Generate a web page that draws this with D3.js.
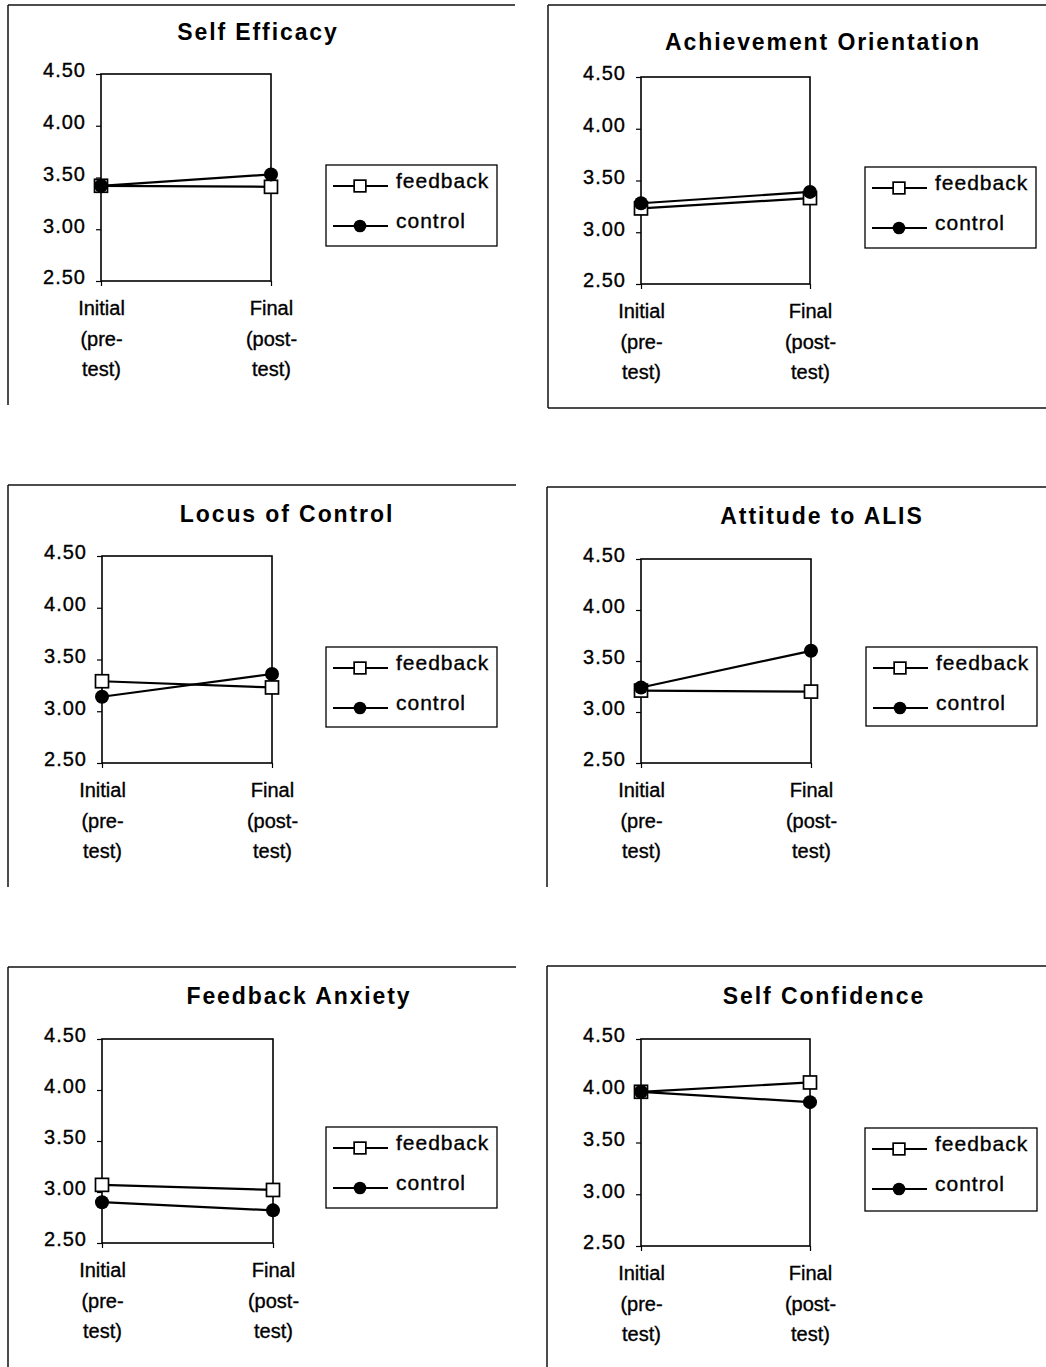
<!DOCTYPE html>
<html>
<head>
<meta charset="utf-8">
<script src="https://cdn.jsdelivr.net/npm/d3@7"></script>
<style>
  html, body { margin: 0; padding: 0; background: #fff; }
  svg { display: block; }
  text { font-family: "Liberation Sans", Arial, sans-serif; fill: #000; }
  .thick { stroke: #000; stroke-width: 0.35px; }
</style>
</head>
<body>
<script>
// ---------- DATA ----------
const panelTitles = ["Self Efficacy", "Achievement Orientation", "Locus of Control",
                     "Attitude to ALIS", "Feedback Anxiety", "Self Confidence"];
const categories = ["Initial", "Final"];
const categoryLabelLines = [["Initial", "(pre-", "test)"], ["Final", "(post-", "test)"]];
const seriesNames = ["feedback", "control"];
const feedbackValues = [
  [3.42, 3.41],
  [3.23, 3.33],
  [3.29, 3.23],
  [3.21, 3.20],
  [3.07, 3.02],
  [3.99, 4.08]
];
const controlValues = [
  [3.42, 3.53],
  [3.28, 3.39],
  [3.14, 3.36],
  [3.24, 3.60],
  [2.90, 2.82],
  [3.99, 3.89]
];
const yTicks = [2.50, 3.00, 3.50, 4.00, 4.50];
const yDomain = [2.5, 4.5];

// ---------- LAYOUT ----------
const layout = [
  { frame: {x: 8, y: 5, w: 507, h: 400, bottom: false}, title: {x: 258, y: 40},
    plot: {x0: 101, x1: 271, y0: 74, y1: 281}, legend: {x: 326, y: 165, w: 171, h: 81} },
  { frame: {x: 548, y: 5, w: 498, h: 403, bottom: true}, title: {x: 823, y: 50},
    plot: {x0: 641, x1: 810, y0: 77, y1: 284}, legend: {x: 865, y: 167, w: 171, h: 81} },
  { frame: {x: 8, y: 485, w: 508, h: 402, bottom: false}, title: {x: 287, y: 522},
    plot: {x0: 102, x1: 272, y0: 556, y1: 763}, legend: {x: 326, y: 647, w: 171, h: 80} },
  { frame: {x: 547, y: 487, w: 499, h: 400, bottom: false}, title: {x: 822, y: 524},
    plot: {x0: 641, x1: 811, y0: 559, y1: 763}, legend: {x: 866, y: 647, w: 171, h: 79} },
  { frame: {x: 8, y: 967, w: 508, h: 400, bottom: false}, title: {x: 299, y: 1004},
    plot: {x0: 102, x1: 273, y0: 1039, y1: 1243}, legend: {x: 326, y: 1127, w: 171, h: 81} },
  { frame: {x: 547, y: 966, w: 499, h: 401, bottom: false}, title: {x: 824, y: 1004},
    plot: {x0: 641, x1: 810, y0: 1039, y1: 1246}, legend: {x: 865, y: 1128, w: 172, h: 83} }
];

const W = 1046, H = 1367;
const svg = d3.select("body").append("svg").attr("width", W).attr("height", H);

function drawMarker(g, type, cx, cy, scale) {
  const k = scale || 1;
  if (type === "feedback") {
    const s = 13 * k;
    g.append("rect").attr("x", cx - s / 2).attr("y", cy - s / 2).attr("width", s).attr("height", s)
      .attr("fill", "#fff").attr("stroke", "#000").attr("stroke-width", 1.7);
  } else {
    g.append("circle").attr("cx", cx).attr("cy", cy).attr("r", 7 * k).attr("fill", "#000");
  }
}

panelTitles.forEach((title, i) => {
  const L = layout[i];
  const g = svg.append("g");

  // frame (top + left, optional bottom)
  const f = L.frame;
  g.append("line").attr("x1", f.x).attr("x2", f.x + f.w).attr("y1", f.y).attr("y2", f.y)
    .attr("stroke", "#111").attr("stroke-width", 1.5);
  g.append("line").attr("x1", f.x).attr("x2", f.x).attr("y1", f.y).attr("y2", f.y + f.h)
    .attr("stroke", "#111").attr("stroke-width", 1.5);
  if (f.bottom) {
    g.append("line").attr("x1", f.x).attr("x2", f.x + f.w).attr("y1", f.y + f.h).attr("y2", f.y + f.h)
      .attr("stroke", "#111").attr("stroke-width", 1.5);
  }

  // title
  g.append("text").attr("x", L.title.x).attr("y", L.title.y)
    .attr("text-anchor", "middle").attr("font-weight", "bold")
    .attr("font-size", 23).attr("letter-spacing", "1.9px")
    .text(title);

  const p = L.plot;
  const x = d3.scalePoint().domain(categories).range([p.x0, p.x1]).padding(0);
  const y = d3.scaleLinear().domain(yDomain).range([p.y1, p.y0]);

  // y axis
  const ya = g.append("g").attr("transform", `translate(${p.x0},0)`)
    .call(d3.axisLeft(y).tickValues(yTicks).tickSize(5).tickPadding(10).tickFormat(d3.format(".2f")));
  ya.select(".domain").remove();
  ya.selectAll(".tick line").attr("stroke", "#000").attr("stroke-width", 1.2);
  ya.selectAll(".tick text").attr("font-size", 20).attr("letter-spacing", "1px")
    .attr("font-family", "'Liberation Sans', Arial, sans-serif").attr("fill", "#000")
    .attr("class", "thick")
    .attr("dy", "0.32em").attr("y", -3.5);

  // x axis
  const xa = g.append("g").attr("transform", `translate(0,${p.y1})`)
    .call(d3.axisBottom(x).tickSize(5).tickFormat(""));
  xa.select(".domain").remove();
  xa.selectAll(".tick line").attr("stroke", "#000").attr("stroke-width", 1.2);
  xa.selectAll(".tick").each(function(d, j) {
    const t = d3.select(this).append("text")
      .attr("text-anchor", "middle").attr("font-size", 20).attr("class", "thick")
      .attr("font-family", "'Liberation Sans', Arial, sans-serif").attr("fill", "#000");
    categoryLabelLines[j].forEach((line, k) => {
      t.append("tspan").attr("x", 0).attr("y", 34 + k * 30.5).text(line);
    });
  });

  // plot border
  g.append("rect").attr("x", p.x0).attr("y", p.y0).attr("width", p.x1 - p.x0).attr("height", p.y1 - p.y0)
    .attr("fill", "none").attr("stroke", "#000").attr("stroke-width", 1.6);

  // series
  const seriesData = [feedbackValues[i], controlValues[i]];
  const lineGen = d3.line().x((d, j) => x(categories[j])).y(d => y(d));
  seriesData.forEach((vals, s) => {
    g.append("path").datum(vals).attr("d", lineGen)
      .attr("fill", "none").attr("stroke", "#000").attr("stroke-width", 2.2);
  });
  seriesData.forEach((vals, s) => {
    vals.forEach((v, j) => drawMarker(g, seriesNames[s], x(categories[j]), y(v)));
  });

  // legend
  const lg = L.legend;
  g.append("rect").attr("x", lg.x).attr("y", lg.y).attr("width", lg.w).attr("height", lg.h)
    .attr("fill", "#fff").attr("stroke", "#000").attr("stroke-width", 1.3);
  seriesNames.forEach((name, s) => {
    const cy = lg.y + 21 + s * 40;
    g.append("line").attr("x1", lg.x + 7).attr("x2", lg.x + 62).attr("y1", cy).attr("y2", cy)
      .attr("stroke", "#000").attr("stroke-width", 1.8);
    drawMarker(g, name, lg.x + 34, cy, 0.9);
    g.append("text").attr("x", lg.x + 70).attr("y", cy + 2).attr("class", "thick")
      .attr("font-size", 21).attr("letter-spacing", "1px").text(name);
  });
});
</script>
</body>
</html>
